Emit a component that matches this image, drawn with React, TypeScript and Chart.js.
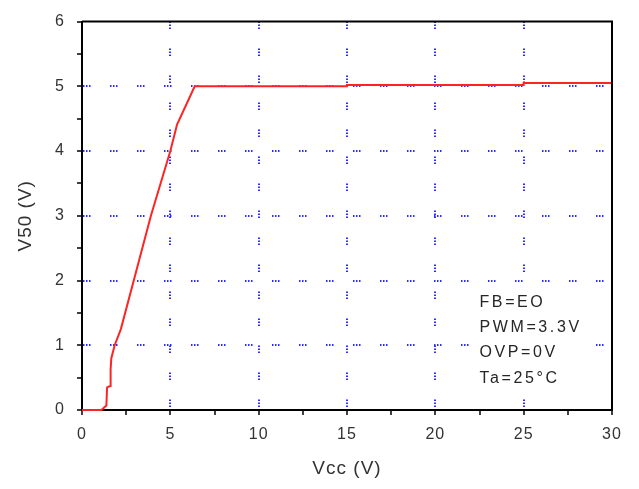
import React, { useEffect, useRef } from "react";
import { Chart, registerables } from "chart.js";

Chart.register(...registerables);

// Vcc (V)
const vccValues = [0, 1.1, 1.38, 1.42, 1.6, 1.62, 1.66, 1.85, 2.2, 2.93, 3.9, 5.0, 5.38, 6.38, 15, 15, 25, 25, 30];
// V50 (V)
const v50Values = [0, 0, 0.07, 0.35, 0.37, 0.63, 0.8, 1.0, 1.25, 2.0, 3.0, 4.0, 4.41, 5.0, 5.0, 5.02, 5.02, 5.05, 5.05];

const xTitle = "Vcc (V)";
const yTitle = "V50 (V)";
const xRange = [0, 30];
const yRange = [0, 6];

const noteLines = ["FB=EO", "PWM=3.3V", "OVP=0V", "Ta=25°C"];
const noteX = 22.5;
const noteY = [1.66, 1.27, 0.88, 0.49];

const GRID_BLUE = "#2d2dff";

export default function App() {
  const ref = useRef<HTMLCanvasElement | null>(null);

  useEffect(() => {
    if (!ref.current) return;
    const points = vccValues.map((x, i) => ({ x, y: v50Values[i] }));

    const spacingPlugin = {
      id: "spacing",
      beforeDraw(chart: any) {
        chart.ctx.letterSpacing = "1px";
      },
    };

    const framePlugin = {
      id: "frame",
      beforeDatasetsDraw(chart: any) {
        // white box behind the note text
        const { ctx } = chart;
        const xs = chart.scales.x;
        const ys = chart.scales.y;
        ctx.save();
        ctx.font = "16px 'Liberation Sans', Arial, sans-serif";
        ctx.letterSpacing = "2.6px";
        const w = Math.max(...noteLines.map((t) => ctx.measureText(t).width));
        const x0 = xs.getPixelForValue(noteX) - 5;
        const y0 = ys.getPixelForValue(noteY[0]) - 13;
        const y1 = ys.getPixelForValue(noteY[noteY.length - 1]) + 20;
        ctx.fillStyle = "#fff";
        ctx.fillRect(x0, y0, w + 10, y1 - y0);
        ctx.restore();
      },
      afterDraw(chart: any) {
        const { ctx, chartArea } = chart;
        ctx.save();
        ctx.strokeStyle = "#000";
        ctx.lineWidth = 2;
        ctx.setLineDash([]);
        ctx.beginPath();
        ctx.moveTo(chartArea.left, chartArea.top);
        ctx.lineTo(chartArea.right, chartArea.top);
        ctx.lineTo(chartArea.right, chartArea.bottom);
        ctx.stroke();

        // annotation text
        const xs = chart.scales.x;
        const ys = chart.scales.y;
        ctx.letterSpacing = "2.6px";
        ctx.fillStyle = "#262626";
        ctx.font = "16px 'Liberation Sans', Arial, sans-serif";
        ctx.textAlign = "left";
        ctx.textBaseline = "middle";
        noteLines.forEach((t, i) => {
          ctx.fillText(t, xs.getPixelForValue(noteX), ys.getPixelForValue(noteY[i]));
        });
        ctx.restore();
      },
    };

    const dash = [1.5, 1.5, 1.5, 1.5, 1.5, 19.5];

    const chart = new Chart(ref.current, {
      type: "line",
      data: {
        datasets: [
          {
            data: points,
            borderColor: "#ff2424",
            borderWidth: 2,
            pointRadius: 0,
            tension: 0,
            fill: false,
            clip: false,
          },
        ],
      },
      options: {
        animation: false,
        responsive: false,
        layout: { padding: { top: 20, right: 27, left: 0, bottom: 0 } },
        plugins: { legend: { display: false }, tooltip: { enabled: false } },
        scales: {
          x: {
            type: "linear",
            min: xRange[0],
            max: xRange[1],
            afterFit(scale: any) {
              scale.height = 79;
            },
            ticks: {
              stepSize: 2.5,
              autoSkip: false,
              maxRotation: 0,
              padding: 10,
              color: "#333",
              font: { family: "'Liberation Sans', Arial, sans-serif", size: 16 },
              callback: (v: any) => (Number(v) % 5 === 0 ? String(v) : ""),
            },
            grid: {
              color: (c: any) => {
                const v = c.tick ? c.tick.value : 0;
                return v % 5 === 0 && v !== xRange[0] && v !== xRange[1] ? GRID_BLUE : "rgba(0,0,0,0)";
              },
              lineWidth: 2,
              tickColor: "#000",
              tickBorderDash: [],
              tickWidth: 1.5,
              tickLength: 5,
              drawTicks: true,
            },
            border: { color: "#000", width: 2, dash: dash },
            title: {
              display: true,
              text: xTitle,
              color: "#333",
              font: { family: "'Liberation Sans', Arial, sans-serif", size: 19 },
              padding: { top: 0, bottom: 9 },
            },
          },
          y: {
            type: "linear",
            min: yRange[0],
            max: yRange[1],
            afterFit(scale: any) {
              scale.width = 82;
            },
            ticks: {
              stepSize: 0.5,
              autoSkip: false,
              padding: 12,
              color: "#333",
              font: { family: "'Liberation Sans', Arial, sans-serif", size: 16 },
              callback: (v: any) => (Number(v) % 1 === 0 ? String(v) : ""),
            },
            grid: {
              color: (c: any) => {
                const v = c.tick ? c.tick.value : 0;
                return v % 1 === 0 && v !== yRange[0] && v !== yRange[1] ? GRID_BLUE : "rgba(0,0,0,0)";
              },
              lineWidth: 2,
              tickColor: "#000",
              tickBorderDash: [],
              tickWidth: 1.5,
              tickLength: 5,
            },
            border: { color: "#000", width: 2, dash: dash },
            title: {
              display: true,
              text: yTitle,
              color: "#333",
              font: { family: "'Liberation Sans', Arial, sans-serif", size: 19 },
              padding: { top: 14, bottom: 0 },
            },
          },
        },
      },
      plugins: [spacingPlugin, framePlugin],
    } as any);

    return () => chart.destroy();
  }, []);

  return (
    <div style={{ position: "absolute", left: 0, top: 0, width: 639, height: 489, background: "#fff" }}>
      <canvas ref={ref} width={639} height={489} style={{ display: "block" }} />
    </div>
  );
}
